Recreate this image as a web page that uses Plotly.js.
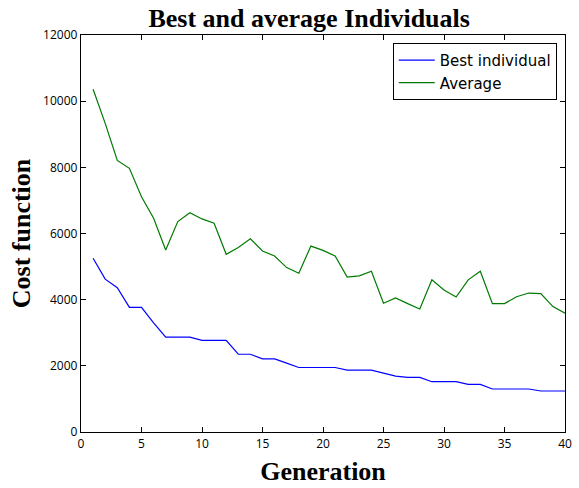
<!DOCTYPE html>
<html>
<head>
<meta charset="utf-8">
<script src="https://cdn.plot.ly/plotly-3.0.1.min.js"></script>
<style>
  html, body { margin: 0; padding: 0; background: #fff; }
  #chart { width: 579px; height: 488px; }
</style>
</head>
<body>
<div id="chart"></div>
<script>
// Generations 1..40
const generations = [1,2,3,4,5,6,7,8,9,10,11,12,13,14,15,16,17,18,19,20,
                     21,22,23,24,25,26,27,28,29,30,31,32,33,34,35,36,37,38,39,40];

// Cost of the best individual per generation
const bestCost = [5250,4620,4360,3770,3770,3300,2870,2870,2870,2770,
                  2770,2770,2350,2350,2210,2210,2080,1950,1950,1950,
                  1950,1870,1870,1870,1780,1690,1650,1650,1520,1520,
                  1520,1440,1440,1300,1300,1300,1300,1240,1240,1240];

// Average cost of the population per generation
const avgCost = [10360,9330,8210,7970,7110,6460,5500,6360,6630,6440,
                 6310,5370,5580,5840,5470,5320,4970,4800,5620,5490,
                 5320,4680,4720,4860,3890,4050,3880,3720,4600,4290,
                 4080,4600,4860,3880,3880,4090,4200,4180,3790,3590];

const seriesNames = ['Best individual', 'Average'];

// Axis ticks
const xTicks = [0,5,10,15,20,25,30,35,40];
const yTicks = [0,2000,4000,6000,8000,10000,12000];
const yTickText = ['0','2000','4000','6000','8000','10000','12000'];

const traces = [
  { x: generations, y: bestCost, name: seriesNames[0], legendgroup: 'a', type: 'scatter', mode: 'lines',
    line: { color: '#0000ff', width: 1.2 } },
  { x: generations, y: avgCost, name: seriesNames[1], legendgroup: 'b', type: 'scatter', mode: 'lines',
    line: { color: '#007a00', width: 1.2 } }
];

const serifBold = { family: 'Liberation Serif, serif', size: 26, color: '#000', weight: 'bold' };

const axisCommon = {
  showgrid: false, zeroline: false, showline: true, mirror: 'ticks',
  linecolor: '#000', linewidth: 1.2,
  ticks: 'inside', ticklen: 5, tickcolor: '#000', tickwidth: 1,
  tickfont: { family: 'Open Sans, sans-serif', size: 12, color: '#000' }
};

const layout = {
  width: 579, height: 488,
  margin: { l: 81, r: 14, t: 35, b: 56 },
  paper_bgcolor: '#fff', plot_bgcolor: '#fff',
  title: {
    text: 'Best and average Individuals',
    font: serifBold,
    x: 0.534, xanchor: 'center', y: 0.963, yanchor: 'middle'
  },
  xaxis: Object.assign({}, axisCommon, {
    range: [0, 40], tickvals: xTicks,
    title: { text: 'Generation', standoff: 11, font: serifBold }
  }),
  yaxis: Object.assign({}, axisCommon, {
    range: [0, 12000], tickvals: yTicks, ticktext: yTickText,
    title: { text: 'Cost function', standoff: 5, font: serifBold }
  }),
  legend: {
    x: 0.983, xanchor: 'right', y: 0.98, yanchor: 'top',
    bordercolor: '#000', borderwidth: 1, bgcolor: '#fff',
    font: { family: 'DejaVu Sans, sans-serif', size: 15, color: '#000' },
    itemwidth: 36, tracegroupgap: 0
  },
  showlegend: true
};

Plotly.newPlot('chart', traces, layout, { staticPlot: true, displayModeBar: false });
</script>
</body>
</html>
